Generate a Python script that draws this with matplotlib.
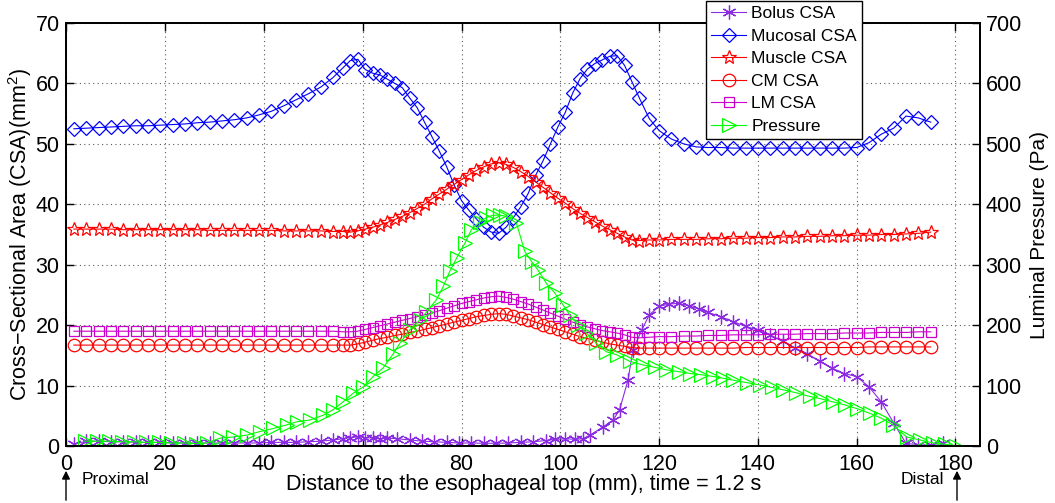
import matplotlib
matplotlib.use('Agg')
import matplotlib.pyplot as plt

plt.rcParams['font.family'] = ['Liberation Sans', 'DejaVu Sans']
plt.rcParams['mathtext.fontset'] = 'custom'
plt.rcParams['mathtext.rm'] = 'Liberation Sans'

# node positions (mm) for the wall layers
x_wall = [1.5, 4, 6.5, 9, 11.5, 14, 16.5, 19, 21.5, 24, 26.5, 29, 31.5, 34, 36.5, 39, 41.5, 44, 46.5, 49, 51.5, 54,
          56, 57.5, 59, 60.5, 62, 63.5, 65,
          66.5, 68, 69.5, 71, 72.5, 74, 75.5, 77, 78.5, 80, 81.5, 83, 84.5, 86, 87.5, 89, 90.5, 92, 93.5, 95, 96.5,
          98, 99.5, 101, 102.5, 104, 105.5, 107, 108.5, 110, 111.5, 113, 114.5,
          116, 118, 120, 122.5, 125, 127.5, 130, 132.5, 135, 137.5, 140, 142.5, 145, 147.5, 150, 152.5, 155, 157.5,
          160, 162.5, 165, 167.5, 170, 172.5, 175]

mucosal = [52.5, 52.6, 52.7, 52.8, 52.9, 53.0, 53.0, 53.1, 53.2, 53.3, 53.5, 53.6, 53.8, 54.0, 54.3, 54.8, 55.4, 56.3,
           57.3, 58.3, 59.4, 61.0,
           62.6, 63.8, 64.0, 62.3, 61.7, 61.4, 60.7,
           60.0, 59.3, 57.6, 56.0, 53.6, 51.2, 48.8, 46.2, 43.2, 40.6, 39.0, 37.6, 36.2, 35.4, 35.2, 36.2, 37.8, 39.6,
           41.8, 44.8, 47.2, 50.0, 52.8, 55.2, 58.4, 60.8, 62.4, 63.3, 63.9, 64.5, 64.6, 63.0, 60.3,
           57.6, 54.2, 52.2, 50.8, 50.0, 49.5, 49.4, 49.4, 49.3, 49.3, 49.3, 49.3, 49.3, 49.3, 49.3, 49.3, 49.3, 49.3,
           49.4, 50.2, 51.6, 52.6, 54.6, 54.3, 53.6]

muscle = [35.9, 35.9, 35.9, 35.9, 35.8, 35.8, 35.8, 35.8, 35.8, 35.8, 35.8, 35.7, 35.7, 35.7, 35.7, 35.7, 35.7, 35.6,
          35.6, 35.6, 35.6, 35.5,
          35.5, 35.4, 35.6, 35.9, 36.2, 36.6, 37.0,
          37.5, 38.0, 38.6, 39.3, 40.0, 40.9, 41.7, 42.5, 43.3, 44.1, 44.9, 45.6, 46.2, 46.7, 46.9, 46.6, 46.1, 45.4,
          44.6, 43.7, 42.8, 41.9, 41.0, 40.2, 39.3, 38.5, 37.8, 37.1, 36.4, 35.8, 35.2, 34.6, 34.1,
          34.0, 34.1, 34.1, 34.2, 34.2, 34.2, 34.3, 34.3, 34.4, 34.4, 34.5, 34.5, 34.6, 34.6, 34.7, 34.7, 34.8, 34.8,
          34.9, 34.9, 35.0, 35.0, 35.1, 35.2, 35.4]

cm = [16.7, 16.7, 16.7, 16.7, 16.7, 16.7, 16.7, 16.7, 16.7, 16.7, 16.7, 16.7, 16.7, 16.7, 16.7, 16.7, 16.7, 16.7,
      16.7, 16.7, 16.7, 16.7,
      16.7, 16.7, 16.9, 17.2, 17.5, 17.8, 18.0,
      18.3, 18.5, 18.8, 19.0, 19.3, 19.6, 19.9, 20.2, 20.5, 20.8, 21.1, 21.4, 21.6, 21.8, 21.9, 21.8, 21.5, 21.2,
      20.9, 20.5, 20.1, 19.7, 19.3, 18.9, 18.5, 18.1, 17.8, 17.5, 17.2, 16.9, 16.7, 16.5, 16.3,
      16.2, 16.2, 16.2, 16.2, 16.2, 16.2, 16.2, 16.2, 16.2, 16.3, 16.3, 16.3, 16.3, 16.3, 16.3, 16.3, 16.3, 16.3,
      16.3, 16.4, 16.4, 16.4, 16.4, 16.4, 16.4]

lm = [19.0, 19.0, 19.0, 19.0, 19.0, 19.0, 19.0, 19.0, 19.0, 19.0, 19.0, 19.0, 19.0, 19.0, 19.0, 19.0, 19.0, 19.0,
      19.0, 19.0, 19.0, 19.0,
      18.9, 18.9, 19.0, 19.3, 19.6, 19.9, 20.2,
      20.5, 20.8, 21.1, 21.4, 21.7, 22.0, 22.4, 22.8, 23.2, 23.6, 23.9, 24.2, 24.5, 24.7, 24.8, 24.6, 24.3, 23.9,
      23.5, 23.0, 22.5, 22.0, 21.5, 21.0, 20.5, 20.1, 19.7, 19.4, 19.1, 18.9, 18.7, 18.4, 18.0,
      17.9, 18.0, 18.1, 18.1, 18.2, 18.2, 18.3, 18.3, 18.4, 18.4, 18.4, 18.5, 18.5, 18.5, 18.6, 18.6, 18.6, 18.7,
      18.7, 18.7, 18.8, 18.8, 18.8, 18.9, 18.9]

x_bolus = [1.5, 4, 6.5, 9, 11.5, 14, 16.5, 19, 21.5, 24, 26.5, 29, 31.5, 34, 36.5, 39, 41.5, 44, 46.5, 49, 51.5, 54,
           56, 57.5, 59, 60.5, 62, 63.5, 65,
           67, 69.5, 72, 74.5, 77, 79.5, 82, 84.5, 87, 89.5, 92, 94.5, 97,
           99, 101, 103, 104.5,
           106, 108.7, 110.7, 112, 113.7, 114.7,
           116.5, 118, 120, 122, 124, 126, 128, 130,
           132.5, 135, 137.5, 140, 142.5, 145, 147.5, 150, 152.5, 155, 157.5, 160, 162.5, 165, 167.5, 170, 172.5,
           175, 177.5]

bolus = [0.3, 0.8, 0.8, 0.7, 0.7, 0.6, 0.6, 0.6, 0.5, 0.5, 0.5, 0.5, 0.5, 0.5, 0.5, 0.5, 0.6, 0.6, 0.6, 0.7, 0.8, 1.0,
         1.2, 1.4, 1.5, 1.4, 1.3, 1.2, 1.3,
         1.2, 1.0, 0.8, 0.7, 0.6, 0.5, 0.5, 0.45, 0.45, 0.5, 0.6, 0.7, 0.9,
         1.1, 1.2, 1.1, 1.2,
         1.8, 3.2, 4.3, 6.0, 10.9, 15.9,
         19.2, 21.7, 23.1, 23.5, 23.6, 23.2, 22.7, 22.1,
         21.4, 20.6, 19.8, 19.2, 18.4, 17.3, 16.2, 15.3, 14.0, 12.9, 12.0, 11.5, 9.8, 7.3, 3.8, 0.45, 0.2,
         0.2, 0.45]

x_press = [3.7, 6.2, 8.7, 11.2, 13.7, 16.2, 18.7, 21.2, 23.7, 26.2, 28.4,
           31.1, 33.8, 36.5, 39.2, 41.9, 44.6, 46.6, 49.3, 52, 54, 56, 58, 60.1, 62.1, 64.1, 66.2,
           67.5, 69.5, 71.6, 72.9, 74.9, 76.3, 77.6, 79, 80.7, 82, 83.7, 85, 86.4, 87.8, 89.1, 91.1,
           92.8, 94.2, 95.5, 97.2, 98.9, 100.6, 101.9, 103.6, 105.3, 107.3, 109.3, 111.4, 114.1, 116.8,
           119.2, 121.5, 124, 126.3, 128.5, 131, 133, 135, 137.7, 140.4, 142.8, 145.1, 147.8, 150.5, 152.8, 155.2,
           157.6, 160, 162.7, 165, 167.4, 170.1, 172.8, 175.5, 177.8, 180.2]

pressure = [8, 8, 8, 7, 7, 6, 6, 5, 5, 4, 5,
            13, 15, 18, 24, 29, 35, 40, 43, 51, 60, 73, 87, 98, 115, 129, 153,
            170, 192, 209, 222, 242, 264, 289, 311, 336, 358, 371, 378, 382, 382, 380, 369,
            322, 305, 291, 269, 253, 233, 217, 200, 187, 170, 156, 151, 140, 134,
            130, 126, 123, 120, 118, 115, 112, 109, 105, 101, 97, 93, 88, 82, 78, 73,
            68, 62, 54, 46, 35, 15, 10, 5, 3, 0]

fig = plt.figure(figsize=(10.55, 5.03), dpi=100)
ax = fig.add_axes([0.063, 0.1133, 0.866, 0.8409])
ax2 = ax.twinx()

lw = 0.8
h1, = ax.plot(x_bolus, bolus, color='#8a2be2', lw=lw, marker=(6, 2, 0), ms=10, mew=0.9, label='Bolus CSA')
h2, = ax.plot(x_wall, mucosal, color='#0000ff', lw=lw, marker='D', ms=7.5, mfc='none', mew=0.9, label='Mucosal CSA')
h3, = ax.plot(x_wall, muscle, color='#ff0000', lw=lw, marker='*', ms=10, mfc='none', mew=0.9, label='Muscle CSA')
h4, = ax.plot(x_wall, cm, color='#ff0000', lw=lw, marker='o', ms=9, mfc='none', mew=0.9, label='CM CSA')
h5, = ax.plot(x_wall, lm, color='#cc00cc', lw=lw, marker='s', ms=7, mfc='none', mew=0.9, label='LM CSA')
h6, = ax2.plot(x_press, pressure, color='#00ff00', lw=lw, marker='>', ms=10, mfc='none', mew=0.9, label='Pressure')

ax.set_xlim(0, 185)
ax.set_ylim(0, 70)
ax2.set_ylim(0, 700)
ax.set_xticks(range(0, 181, 20))
ax.set_yticks(range(0, 71, 10))
ax2.set_yticks(range(0, 701, 100))

ax.grid(True, linestyle=(0, (1, 3)), color='0.35', linewidth=0.8)
ax.tick_params(direction='in', top=True, length=6, width=1, labelsize=15.5, pad=5)
ax.tick_params(axis='x', pad=6)
ax2.tick_params(direction='in', length=6, width=1, labelsize=15.5, pad=4)
for a in (ax, ax2):
    for s in a.spines.values():
        s.set_linewidth(1.3)

ax.set_xlabel('Distance to the esophageal top (mm), time = 1.2 s', fontsize=15.5, labelpad=-1)
ax.set_ylabel('Cross\u2212Sectional Area (CSA)(mm$^\\mathregular{2}$)', fontsize=15.5, labelpad=1)
ax2.set_ylabel('Luminal Pressure (Pa)', fontsize=15, labelpad=6)

fig.legend(handles=[h1, h2, h3, h4, h5, h6], loc='upper left', bbox_to_anchor=(706 / 1055, 1 - 1 / 503),
           borderaxespad=0, fontsize=12.5, fancybox=False, framealpha=1, edgecolor='black',
           handlelength=2.0, handletextpad=0.3, labelspacing=0.42, borderpad=0.3)

# proximal / distal markers under the axis
ax.annotate('', xy=(66 / 1055, 1 - 468 / 503), xytext=(66 / 1055, 0.0),
            xycoords='figure fraction', textcoords='figure fraction',
            arrowprops=dict(arrowstyle='-|>', color='black', lw=1, mutation_scale=12))
ax.annotate('', xy=(957 / 1055, 1 - 468 / 503), xytext=(957 / 1055, 0.0),
            xycoords='figure fraction', textcoords='figure fraction',
            arrowprops=dict(arrowstyle='-|>', color='black', lw=1, mutation_scale=12))
fig.text(82 / 1055, 1 - 479 / 503, 'Proximal', fontsize=12.5, va='center', ha='left')
fig.text(944 / 1055, 1 - 479 / 503, 'Distal', fontsize=12.5, va='center', ha='right')

plt.savefig('out.png', dpi=100)
